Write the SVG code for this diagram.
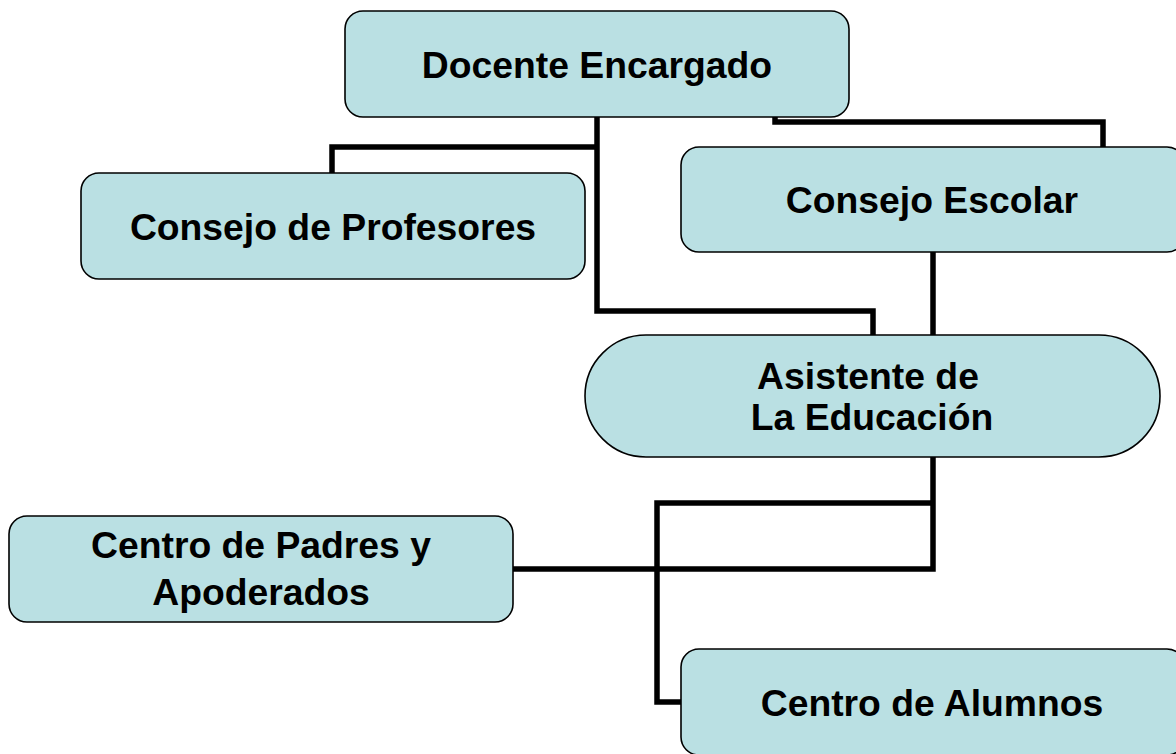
<svg xmlns="http://www.w3.org/2000/svg" width="1176" height="754" viewBox="0 0 1176 754">
<style>
.box{fill:#bae0e3;stroke:#000;stroke-width:1.6}
.lbl{font-family:"Liberation Sans",Arial,sans-serif;font-weight:bold;font-size:37.3px;fill:#000;text-anchor:middle}
.ln{fill:none;stroke:#000;stroke-width:5.5;stroke-linejoin:miter;stroke-linecap:butt}
</style>
<rect width="1176" height="754" fill="#fff"/>
<g id="connectors">
<polyline class="ln" points="597,117 597,311 873,311 873,335"/>
<polyline class="ln" points="597,147 332,147 332,173"/>
<polyline class="ln" points="775,117 775,122 1103,122 1103,147"/>
<polyline class="ln" points="933,252 933,335"/>
<polyline class="ln" points="933,457 933,569 513,569"/>
<polyline class="ln" points="933,503 657,503 657,702 681,702"/>
</g>
<g id="docente">
<rect class="box" x="345" y="11" width="504" height="106" rx="18"/>
<text class="lbl" x="597" y="78">Docente Encargado</text>
</g>
<g id="consejo-profesores">
<rect class="box" x="81" y="173" width="504" height="106" rx="18"/>
<text class="lbl" x="333" y="240">Consejo de Profesores</text>
</g>
<g id="consejo-escolar">
<rect class="box" x="681" y="147" width="504" height="105" rx="18"/>
<text class="lbl" x="932" y="213">Consejo Escolar</text>
</g>
<g id="asistente">
<rect class="box" x="585" y="335" width="575" height="122" rx="61"/>
<text class="lbl" x="868" y="389">Asistente de</text>
<text class="lbl" x="872" y="430">La Educación</text>
</g>
<g id="centro-padres">
<rect class="box" x="9" y="516" width="504" height="106" rx="18"/>
<text class="lbl" x="261" y="558">Centro de Padres y</text>
<text class="lbl" x="261" y="605">Apoderados</text>
</g>
<g id="centro-alumnos">
<rect class="box" x="681" y="649" width="504" height="106" rx="18"/>
<text class="lbl" x="932" y="716">Centro de Alumnos</text>
</g>
</svg>
